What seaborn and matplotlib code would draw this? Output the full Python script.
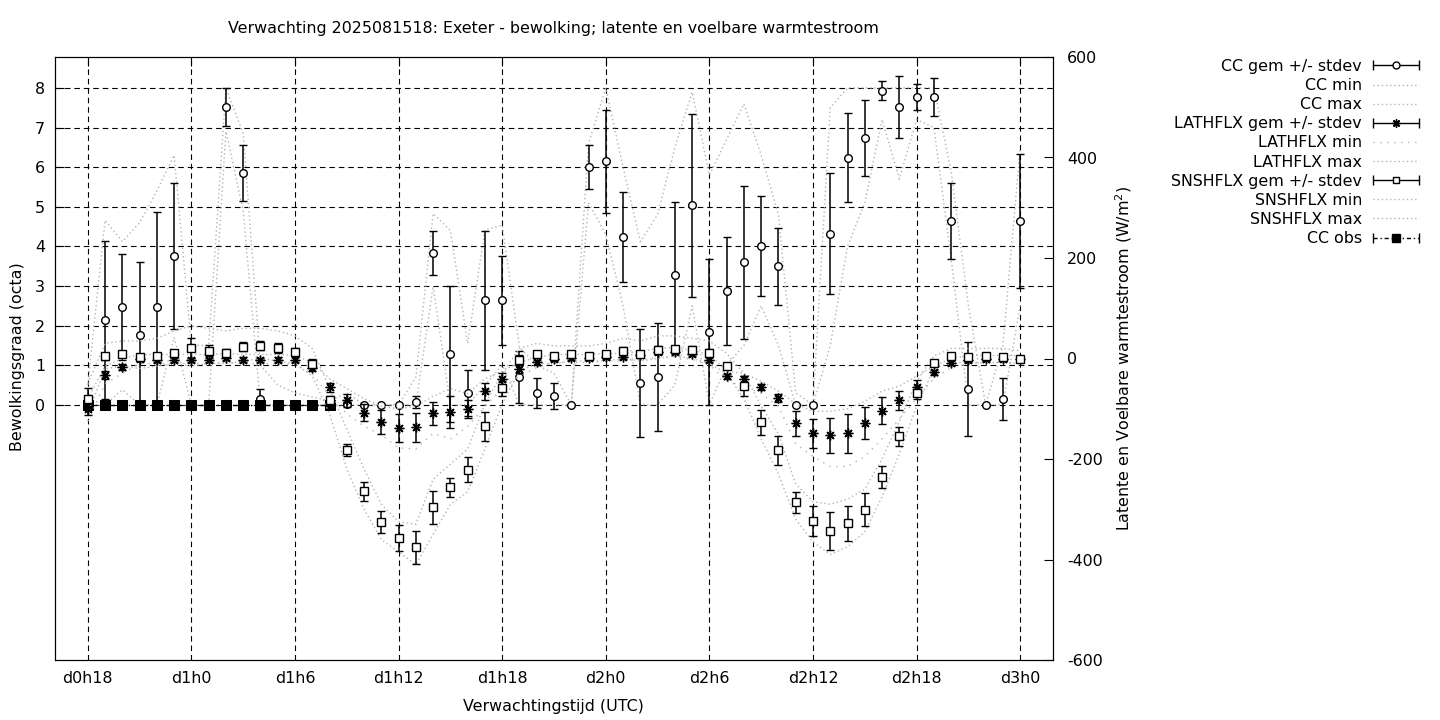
import numpy as np
import seaborn as sns
import matplotlib.pyplot as plt
from matplotlib.lines import Line2D
from matplotlib.legend_handler import HandlerLine2D


# uren vanaf d0h0, een punt per uur
lead_hours = np.arange(18, 73)
tick_hours = [18, 24, 30, 36, 42, 48, 54, 60, 66, 72]
tick_labels = ['d0h18', 'd1h0', 'd1h6', 'd1h12', 'd1h18',
               'd2h0', 'd2h6', 'd2h12', 'd2h18', 'd3h0']

# bewolking (octa)
cc_mean = [0, 2.14, 2.47, 1.76, 2.47, 3.75, 0, 0, 7.53, 5.86,
           0.14, 0, 0, 0, 0, 0.03, 0, 0, 0, 0.07,
           3.84, 1.29, 0.30, 2.64, 2.64, 0.70, 0.30, 0.22, 0, 6.0,
           6.15, 4.23, 0.56, 0.70, 3.27, 5.04, 1.84, 2.87, 3.60, 4.01,
           3.50, 0, 0, 4.32, 6.24, 6.74, 7.93, 7.52, 7.77, 7.77,
           4.64, 0.40, 0, 0.15, 4.64]
cc_std = [0, 2.0, 1.35, 1.84, 2.4, 1.84, 0, 0, 0.48, 0.71,
          0.26, 0, 0, 0, 0, 0.05, 0, 0, 0, 0.15,
          0.55, 1.72, 0.57, 1.75, 1.12, 0.65, 0.39, 0.32, 0, 0.56,
          1.3, 1.13, 1.36, 1.37, 1.84, 2.31, 1.84, 1.37, 1.93, 1.27,
          0.97, 0, 0, 1.52, 1.12, 0.96, 0.24, 0.79, 0.34, 0.48,
          0.95, 1.19, 0, 0.54, 1.69]
cc_min = [0, 0, 0.38, 0, 0, 1.7, 0, 0, 6.9, 4.9,
          0, 0, 0, 0, 0, 0, 0, 0, 0, 0,
          3.0, 0, 0, 0.5, 1.0, 0, 0, 0, 0, 5.1,
          4.3, 2.5, 0, 0, 0.5, 2.5, 0, 1.0, 1.5, 2.5,
          1.5, 0, 0, 1.5, 4.0, 5.1, 7.2, 5.7, 7.2, 7.0,
          3.7, 0, 0, 0, 2.5]
cc_max = [0.5, 4.66, 4.12, 4.6, 5.4, 6.3, 1.5, 1.5, 8.0, 6.85,
          1.0, 0.5, 0.3, 0.2, 0.1, 0.3, 0, 0, 0, 0.7,
          4.83, 4.4, 1.55, 4.41, 4.54, 1.46, 1.0, 0.8, 0, 6.6,
          8.0, 6.0, 4.12, 4.8, 6.5, 7.9, 5.8, 6.7, 7.6, 6.3,
          4.8, 0.3, 0, 7.5, 8.0, 8.0, 8.0, 8.0, 8.0, 8.0,
          5.9, 2.5, 0, 1.5, 6.5]

# latente warmtestroom (W/m2)
lat_mean = [-100, -33, -16, 0, -2, -3, -3, -3, 1, -2,
            -3, -2, -2, -19, -57, -83, -108, -126, -139, -137,
            -109, -106, -101, -65, -40, -20, -7, 0, 1, 1,
            3, 3, 6, 12, 13, 8, -2, -35, -41, -57,
            -79, -129, -149, -153, -149, -129, -104, -83, -56, -27,
            -8, -2, 0, 0, 0]
lat_std = [12, 8, 6, 4, 4, 4, 4, 4, 4, 4,
           4, 4, 4, 6, 9, 13, 17, 24, 28, 29,
           23, 32, 18, 17, 11, 8, 5, 4, 4, 4,
           4, 4, 4, 4, 4, 4, 4, 5, 7, 6,
           8, 25, 29, 35, 39, 32, 27, 19, 13, 5,
           4, 4, 4, 4, 4]
lat_min = [-125, -50, -30, -10, -10, -10, -10, -10, -8, -10,
           -10, -10, -12, -30, -75, -110, -135, -152, -178, -180,
           -149, -160, -135, -95, -60, -35, -18, -8, -8, -8,
           -5, -5, -2, 2, 4, -2, -12, -45, -55, -70,
           -95, -170, -195, -215, -215, -195, -160, -120, -80, -40,
           -18, -10, -8, -8, -8]
lat_max = [-80, -15, 0, 8, 8, 8, 8, 8, 10, 8,
           8, 8, 6, -8, -40, -60, -80, -95, -100, -95,
           -75, -60, -70, -40, -25, -8, 2, 8, 8, 8,
           10, 10, 14, 20, 22, 16, 8, -25, -30, -45,
           -65, -90, -105, -105, -100, -85, -65, -55, -35, -15,
           0, 6, 6, 6, 6]

# voelbare warmtestroom (W/m2)
sns_mean = [-80, 4, 8, 2, 5, 11, 21, 15, 11, 23,
            25, 21, 12, -10, -83, -182, -264, -326, -358, -376,
            -296, -256, -221, -135, -59, -3, 8, 4, 8, 5,
            8, 14, 9, 16, 18, 16, 10, -14, -55, -127,
            -183, -286, -324, -344, -328, -301, -236, -155, -69, -8,
            4, 2, 4, 3, 0]
sns_std = [22, 6, 6, 6, 6, 6, 20, 11, 8, 9,
           9, 10, 8, 9, 8, 12, 19, 22, 26, 32,
           33, 19, 24, 29, 15, 10, 6, 6, 5, 5,
           6, 8, 6, 8, 6, 8, 8, 5, 20, 25,
           28, 21, 30, 38, 35, 33, 22, 19, 12, 4,
           4, 4, 4, 4, 4]
sns_min = [-110, -20, -15, -20, -15, -10, -15, -10, -10, -5,
           0, -5, -10, -35, -110, -220, -300, -360, -385, -410,
           -350, -290, -265, -180, -90, -25, -10, -10, -5, -5,
           -5, 0, -5, 0, 5, 0, -10, -30, -80, -160,
           -230, -320, -365, -390, -375, -345, -275, -190, -95, -20,
           -8, -8, -8, -8, -10]
sns_max = [-50, 30, 35, 35, 40, 55, 65, 60, 55, 60,
           60, 55, 45, 20, -60, -140, -220, -290, -325, -330,
           -240, -210, -180, -90, -30, 20, 30, 25, 25, 25,
           30, 40, 35, 45, 45, 40, 35, 10, -30, -95,
           -150, -250, -285, -290, -280, -260, -200, -125, -45, 5,
           20, 20, 20, 20, 15]

# waarnemingen bewolking
obs_hours = [18, 19, 20, 21, 22, 23, 24, 25, 26, 27, 28, 29, 30, 31, 32]
cc_obs = [0, 0, 0, 0, 0, 0, 0, 0, 0, 0, 0, 0, 0, 0, 0]


sns.set_theme(style='white', rc={'axes.edgecolor': 'black', 'axes.linewidth': 0.8,
                                 'xtick.color': 'black', 'ytick.color': 'black',
                                 'text.color': 'black', 'axes.labelcolor': 'black'})
plt.rcParams['font.family'] = ['DejaVu Sans']
plt.rcParams['axes.unicode_minus'] = False

fs = 11.4
grey = '#b4b4b4'
dots = (0, (1, 2))

fig = plt.figure(figsize=(14.4, 7.2), dpi=100)
ax = fig.add_axes([55/1440, 60/720, 998/1440, 603/720])
ax2 = ax.twinx()

# min/max lijnen
sns.lineplot(x=lead_hours, y=cc_min, ax=ax, color=grey, linestyle=dots, lw=1)
sns.lineplot(x=lead_hours, y=cc_max, ax=ax, color=grey, linestyle=dots, lw=1)
sns.lineplot(x=lead_hours, y=lat_min, ax=ax2, color=grey, linestyle=(0, (1, 4)), lw=1)
sns.lineplot(x=lead_hours, y=lat_max, ax=ax2, color=grey, linestyle=dots, lw=1)
sns.lineplot(x=lead_hours, y=sns_min, ax=ax2, color=grey, linestyle=dots, lw=1)
sns.lineplot(x=lead_hours, y=sns_max, ax=ax2, color=grey, linestyle=dots, lw=1)

# gemiddelden met stdev
eb = dict(ecolor='black', elinewidth=1.1, capsize=3, capthick=1.1, mec='black', mew=1)
ax.errorbar(lead_hours, cc_mean, yerr=cc_std, fmt='o', ms=5.5, mfc='white', **eb)
ax2.errorbar(lead_hours, lat_mean, yerr=lat_std, fmt='none', **eb)
ax2.plot(lead_hours, lat_mean, ls='none', marker=(8, 2, 0), ms=7, color='black', mew=1)
ax2.errorbar(lead_hours, sns_mean, yerr=sns_std, fmt='s', ms=6, mfc='white', **eb)

# waarnemingen (boven de CC-cirkels)
sns.lineplot(x=obs_hours, y=cc_obs, ax=ax, color='black', marker='s', ms=6.5, mec='black',
             mfc='black', linestyle=(0, (3, 2, 1, 2)), lw=1, zorder=5)

ax.set_xlim(16.1, 73.9)
ax.set_ylim(-6.44, 8.78)
ax2.set_ylim(-600, 600)
ax.set_xticks(tick_hours, tick_labels)
ax.set_yticks(range(0, 9))
ax2.set_yticks(range(-600, 601, 200))

ax.grid(True, color='black', linestyle=(0, (5, 3.5)), lw=0.8)
ax.set_axisbelow(True)
ax2.grid(False)

ax.tick_params(direction='in', length=6.5, width=0.8, top=True, right=False, labelsize=fs)
ax.tick_params(axis='y', pad=7)
ax.tick_params(axis='x', pad=8)
ax2.tick_params(direction='in', length=6.5, width=0.8, labelsize=fs, pad=10)

fig.text(553/1440, 1 - 29/720, 'Verwachting 2025081518: Exeter - bewolking; latente en voelbare warmtestroom',
         ha='center', va='center', fontsize=fs)
fig.text(553/1440, 1 - 706/720, 'Verwachtingstijd (UTC)', ha='center', va='center', fontsize=fs)
fig.text(18/1440, 1 - 357/720, 'Bewolkingsgraad (octa)', ha='center', va='center',
         rotation=90, fontsize=fs)
fig.text(1124/1440, 1 - 358/720, 'Latente en Voelbare warmtestroom (W/m$^2$)', ha='center',
         va='center', rotation=90, fontsize=fs)

# legenda zoals gnuplot: tekst rechts uitgelijnd, symbool rechts
caps = Line2D([], [], color='black', marker='|', ms=7, lw=1)
caps_obs = Line2D([], [], color='black', marker='|', ms=7, lw=1, ls=(0, (3, 2, 1, 2)))
m_cc = Line2D([], [], ls='none', marker='o', ms=5, mfc='white', mec='black')
m_lat = Line2D([], [], ls='none', marker=(8, 2, 0), ms=6, color='black')
m_sns = Line2D([], [], ls='none', marker='s', ms=5, mfc='white', mec='black')
m_obs = Line2D([], [], ls='none', marker='s', ms=5.5, color='black')
dot_h = Line2D([], [], color=grey, ls=dots, lw=1)
dot_w = Line2D([], [], color=grey, ls=(0, (1, 4)), lw=1)

handles = [(caps, m_cc), dot_h, dot_h, (caps, m_lat), dot_w, dot_h,
           (caps, m_sns), dot_h, dot_h, (caps_obs, m_obs)]
labels = ['CC gem +/- stdev', 'CC min', 'CC max', 'LATHFLX gem +/- stdev', 'LATHFLX min',
          'LATHFLX max', 'SNSHFLX gem +/- stdev', 'SNSHFLX min', 'SNSHFLX max', 'CC obs']
fig.legend(handles, labels, loc='upper right', bbox_to_anchor=(1419/1440, 1 - 59/720),
           handler_map={caps: HandlerLine2D(numpoints=2, marker_pad=0),
                        caps_obs: HandlerLine2D(numpoints=2, marker_pad=0)},
           frameon=False, markerfirst=False, fontsize=fs, handlelength=2.9,
           handletextpad=0.7, labelspacing=0.26, borderpad=0, borderaxespad=0)

plt.savefig('out.png', dpi=100)
